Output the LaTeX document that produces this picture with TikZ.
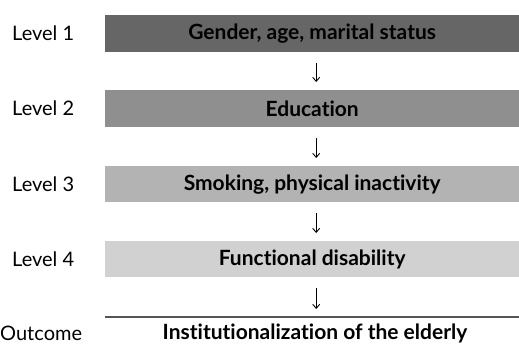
\documentclass[tikz,border=0pt]{standalone}
\usepackage{fontspec}
\setmainfont{Lato}[Ligatures={NoCommon,NoContextual},RawFeature={-liga;-dlig;-calt}]
\usetikzlibrary{arrows.meta}
\definecolor{cA}{HTML}{666666}
\definecolor{cB}{HTML}{8F8F8F}
\definecolor{cC}{HTML}{B3B3B3}
\definecolor{cD}{HTML}{D1D1D1}
\definecolor{cL}{HTML}{555555}
\begin{document}
\begin{tikzpicture}[x=1pt,y=-1pt,
  bar/.style={minimum width=414pt,inner sep=0pt,anchor=north west,font=\fontsize{21}{24}\selectfont\bfseries,text=black},
  lvl/.style={anchor=west,inner sep=0pt,font=\fontsize{20}{24}\selectfont},
  conn/.style={-{Straight Barb[length=4pt,width=7pt]},line width=0.9pt,shorten <=11pt,shorten >=8pt}]
\useasboundingbox (0,0) rectangle (519,347);
\node[bar,fill=cA,minimum height=37pt] (b1) at (105,15) {Gender, age, marital status};
\node[bar,fill=cB,minimum height=37pt] (b2) at (105,90) {Education};
\node[bar,fill=cC,minimum height=36pt] (b3) at (105,166) {Smoking, physical inactivity};
\node[bar,fill=cD,minimum height=36pt] (b4) at (105,241) {Functional disability};
\coordinate (ls) at (105,317);
\coordinate (le) at (519,317);
\draw[cL,line width=2pt] (ls) -- (le);
\node[font=\fontsize{21}{24}\selectfont\bfseries,inner sep=0pt] (out) at (315,333) {Institutionalization of the elderly};
\node[lvl] (l1) at (12,33.5) {Level 1};
\node[lvl] (l2) at (12,108.5) {Level 2};
\node[lvl] (l3) at (12,184) {Level 3};
\node[lvl] (l4) at (12,259) {Level 4};
\node[lvl] (l5) at (0,333) {Outcome};
\draw[conn] ([xshift=4pt]b1.south) -- ([xshift=4pt]b2.north);
\draw[conn] ([xshift=4pt]b2.south) -- ([xshift=4pt]b3.north);
\draw[conn] ([xshift=4pt]b3.south) -- ([xshift=4pt]b4.north);
\draw[conn] ([xshift=4pt]b4.south) -- ([xshift=4pt]ls -| b4.south);
\end{tikzpicture}
\end{document}
